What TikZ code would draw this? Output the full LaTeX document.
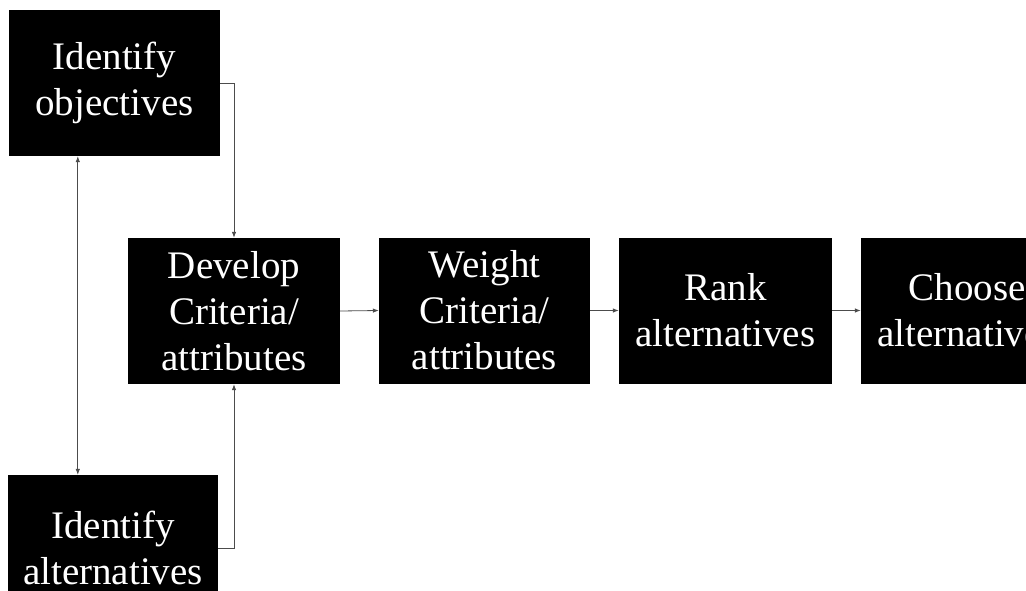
\documentclass[tikz,border=0pt]{standalone}
\usepackage{fontspec}
\setmainfont{Liberation Serif}
\usetikzlibrary{arrows.meta}
\begin{document}
\begin{tikzpicture}[x=1pt,y=-1pt,
  box/.style={fill=black, draw=none, text=white, align=center, inner sep=0pt,
    minimum height=146pt, font=\fontsize{39}{46}\selectfont},
  conn/.style={draw=black!70, line width=0.8pt, -{Latex[length=6pt,width=4.5pt]}},
  dconn/.style={draw=black!70, line width=0.8pt, {Latex[length=6pt,width=4.5pt]}-{Latex[length=6pt,width=4.5pt]}}]
\useasboundingbox (0,0) rectangle (1026,591);
\clip (0,0) rectangle (1026,591);
\fill[white] (0,0) rectangle (1026,591);
\node[box, minimum width=211pt] (obj) at (114.5,83) {Identify\\objectives};
\node[box, minimum width=210pt] (alt) at (113,548) {Identify\\alternatives};
\node[box, minimum width=212pt] (dev) at (234,311) {Develop\\Criteria/\\attributes};
\node[box, minimum width=211pt] (wei) at (484.5,310.5) {Weight\\Criteria/\\attributes};
\node[box, minimum width=213pt] (rank) at (725.5,310.5) {Rank\\alternatives};
\node[box, minimum width=212pt] (cho) at (967,310.5) {Choose\\alternatives};
\coordinate (v) at ([xshift=69pt]obj.south west);
\draw[conn] (obj.east) -| (dev.north);
\draw[conn] (alt.east) -| (dev.south);
\draw[dconn] (v) -- (v |- alt.north);
\draw[conn] (dev.east) -- (wei.west);
\draw[conn] (wei.east) -- (rank.west);
\draw[conn] (rank.east) -- (cho.west);
\end{tikzpicture}
\end{document}
